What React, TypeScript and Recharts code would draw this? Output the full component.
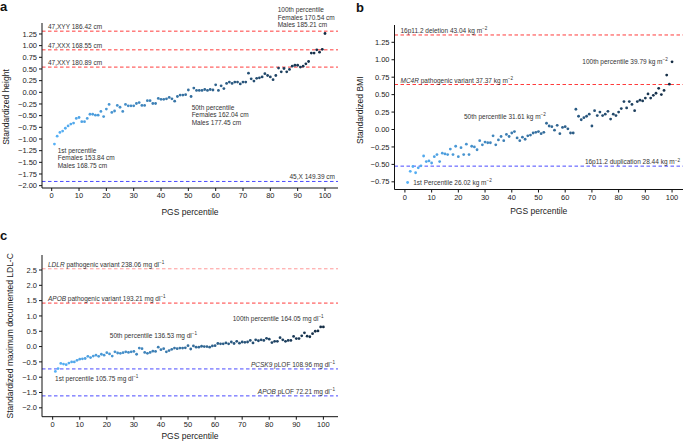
import React from 'react';
import { ScatterChart, Scatter, XAxis, YAxis, ReferenceLine, ReferenceDot } from 'recharts';

const FONT = '"Liberation Sans", Arial, Helvetica, sans-serif';

const percentiles = [
  1, 2, 3, 4, 5, 6, 7, 8, 9, 10, 11, 12, 13, 14, 15, 16, 17, 18, 19, 20,
  21, 22, 23, 24, 25, 26, 27, 28, 29, 30, 31, 32, 33, 34, 35, 36, 37, 38, 39, 40,
  41, 42, 43, 44, 45, 46, 47, 48, 49, 50, 51, 52, 53, 54, 55, 56, 57, 58, 59, 60,
  61, 62, 63, 64, 65, 66, 67, 68, 69, 70, 71, 72, 73, 74, 75, 76, 77, 78, 79, 80,
  81, 82, 83, 84, 85, 86, 87, 88, 89, 90, 91, 92, 93, 94, 95, 96, 97, 98, 99, 100
];

const xTicks = [0, 10, 20, 30, 40, 50, 60, 70, 80, 90, 100];
const heightTicks = [-2, -1.75, -1.5, -1.25, -1, -0.75, -0.5, -0.25, 0, 0.25, 0.5, 0.75, 1, 1.25];
const bmiTicks = [-0.75, -0.5, -0.25, 0, 0.25, 0.5, 0.75, 1, 1.25];
const ldlTicks = [-2, -1.5, -1, -0.5, 0, 0.5, 1, 1.5, 2, 2.5];

// standardized height by PGS percentile
const heightValues = [
  -1.11, -0.94, -0.86, -0.83, -0.77, -0.72, -0.68, -0.66, -0.56, -0.54,
  -0.63, -0.63, -0.56, -0.47, -0.47, -0.49, -0.49, -0.41, -0.52, -0.36,
  -0.26, -0.43, -0.40, -0.28, -0.32, -0.41, -0.26, -0.29, -0.29, -0.29,
  -0.24, -0.22, -0.28, -0.28, -0.18, -0.18, -0.24, -0.24, -0.13, -0.15,
  -0.15, -0.14, -0.11, -0.14, -0.19, -0.09, -0.06, -0.06, -0.05, 0.05,
  -0.09, 0.09, 0.04, 0.04, 0.04, 0.06, 0.04, 0.06, 0.05, 0.16,
  0.04, 0.14, 0.08, 0.19, 0.22, 0.19, 0.22, 0.22, 0.18, 0.22,
  0.22, 0.41, 0.29, 0.24, 0.30, 0.31, 0.33, 0.40, 0.36, 0.33,
  0.27, 0.36, 0.52, 0.44, 0.51, 0.44, 0.49, 0.56, 0.58, 0.58,
  0.54, 0.56, 0.61, 0.66, 0.84, 0.84, 0.91, 0.86, 0.92, 1.26
];

// standardized BMI by PGS percentile
const bmiValues = [
  -0.76, -0.60, -0.53, -0.62, -0.55, -0.52, -0.38, -0.46, -0.45, -0.48,
  -0.39, -0.36, -0.46, -0.34, -0.35, -0.36, -0.28, -0.36, -0.24, -0.39,
  -0.26, -0.36, -0.21, -0.36, -0.24, -0.25, -0.29, -0.16, -0.22, -0.18,
  -0.19, -0.19, -0.09, -0.22, -0.15, -0.10, -0.16, -0.07, -0.10, -0.05,
  -0.03, -0.12, -0.16, -0.11, -0.14, -0.09, -0.08, -0.05, -0.04, -0.03,
  -0.06, -0.04, 0.09, 0.05, 0.04, -0.01, 0.06, -0.06, 0.03, 0.04,
  0.01, -0.05, -0.05, 0.29, 0.19, 0.14, 0.17, 0.19, 0.22, 0.05,
  0.27, 0.20, 0.25, 0.20, 0.22, 0.26, 0.15, 0.22, 0.20, 0.25,
  0.30, 0.40, 0.31, 0.40, 0.36, 0.27, 0.40, 0.42, 0.41, 0.45,
  0.51, 0.45, 0.49, 0.52, 0.59, 0.50, 0.56, 0.78, 0.65, 0.97
];

// standardized maximum documented LDL-C by PGS percentile
const ldlValues = [
  -0.81, -0.72, -0.55, -0.57, -0.59, -0.54, -0.50, -0.50, -0.45, -0.41,
  -0.40, -0.39, -0.32, -0.36, -0.31, -0.28, -0.32, -0.25, -0.28, -0.20,
  -0.24, -0.31, -0.17, -0.21, -0.22, -0.20, -0.17, -0.19, -0.17, -0.16,
  -0.25, -0.05, -0.07, -0.19, -0.22, -0.19, -0.15, -0.16, -0.02, -0.10,
  -0.07, -0.17, -0.13, -0.09, -0.05, -0.07, -0.05, -0.05, -0.04, 0.03,
  -0.08, 0.02, -0.02, -0.02, 0.01, 0.00, 0.00, -0.02, 0.02, 0.03,
  0.10, 0.09, 0.09, 0.12, 0.09, 0.15, 0.10, 0.17, 0.11, 0.15,
  0.14, 0.15, 0.20, 0.12, 0.22, 0.19, 0.22, 0.20, 0.27, 0.24,
  0.13, 0.17, 0.17, 0.29, 0.22, 0.17, 0.20, 0.20, 0.33, 0.26,
  0.26, 0.35, 0.45, 0.34, 0.32, 0.42, 0.50, 0.51, 0.64, 0.64
];

type Part = { t: string; i?: boolean; sup?: boolean };
type RefLine = { y: number; kind: 'high' | 'low'; label: Part[]; faint?: boolean };
type Note = { x: number; y: number; lines: Part[][]; anchor: 'start' | 'end' };

const heightLines: RefLine[] = [
  { y: 1.31, kind: 'high', label: [{ t: '47,XYY 186.42 cm' }] },
  { y: 0.91, kind: 'high', label: [{ t: '47,XXX 168.55 cm' }] },
  { y: 0.54, kind: 'high', label: [{ t: '47,XXY 180.89 cm' }] },
  { y: -1.91, kind: 'low', label: [{ t: '45,X 149.39 cm' }] }
];

const bmiLines: RefLine[] = [
  { y: 1.355, kind: 'high', label: [{ t: '16p11.2 deletion 43.04 kg m' }, { t: '−2', sup: true }] },
  { y: 0.645, kind: 'high', label: [{ t: 'MC4R', i: true }, { t: ' pathogenic variant 37.37 kg m' }, { t: '−2', sup: true }] },
  { y: -0.525, kind: 'low', label: [{ t: '16p11.2 duplication 28.44 kg m' }, { t: '−2', sup: true }] }
];

const ldlLines: RefLine[] = [
  { y: 2.54, kind: 'high', faint: true, label: [{ t: 'LDLR', i: true }, { t: ' pathogenic variant 238.06 mg dl' }, { t: '−1', sup: true }] },
  { y: 1.42, kind: 'high', label: [{ t: 'APOB', i: true }, { t: ' pathogenic variant 193.21 mg dl' }, { t: '−1', sup: true }] },
  { y: -0.73, kind: 'low', label: [{ t: 'PCSK9', i: true }, { t: ' pLOF 108.96 mg dl' }, { t: '−1', sup: true }] },
  { y: -1.61, kind: 'low', label: [{ t: 'APOB', i: true }, { t: ' pLOF 72.21 mg dl' }, { t: '−1', sup: true }] }
];

const heightNotes: Note[] = [
  { x: 2.2, y: -1.3, anchor: 'start', lines: [[{ t: '1st percentile' }], [{ t: 'Females 153.84 cm' }], [{ t: 'Males 168.75 cm' }]] },
  { x: 51.2, y: -0.38, anchor: 'start', lines: [[{ t: '50th percentile' }], [{ t: 'Females 162.04 cm' }], [{ t: 'Males 177.45 cm' }]] },
  { x: 82.7, y: 1.715, anchor: 'start', lines: [[{ t: '100th percentile' }], [{ t: 'Females 170.54 cm' }], [{ t: 'Males 185.21 cm' }]] }
];

const bmiNotes: Note[] = [
  { x: 3.1, y: -0.79, anchor: 'start', lines: [[{ t: '1st Percentile 26.02 kg m' }, { t: '−2', sup: true }]] },
  { x: 22.1, y: 0.155, anchor: 'start', lines: [[{ t: '50th percentile 31.61 kg m' }, { t: '−2', sup: true }]] },
  { x: 98.4, y: 0.944, anchor: 'end', lines: [[{ t: '100th percentile 39.79 kg m' }, { t: '−2', sup: true }]] }
];

const ldlNotes: Note[] = [
  { x: 0.9, y: -1.125, anchor: 'start', lines: [[{ t: '1st percentile 105.75 mg dl' }, { t: '−1', sup: true }]] },
  { x: 21.1, y: 0.28, anchor: 'start', lines: [[{ t: '50th percentile 136.53 mg dl' }, { t: '−1', sup: true }]] },
  { x: 100.1, y: 0.85, anchor: 'end', lines: [[{ t: '100th percentile 164.05 mg dl' }, { t: '−1', sup: true }]] }
];

// ggplot-like gradient, light blue at low percentile to dark navy at the top
const LIGHT = [0x56, 0xb1, 0xf7];
const DARK = [0x13, 0x2b, 0x43];
const dotColor = (p: number) => {
  const t = (p - 1) / 99;
  const c = LIGHT.map((v, k) => Math.round(v + (DARK[k] - v) * t));
  return `rgb(${c[0]},${c[1]},${c[2]})`;
};

const minus = (s: string) => s.replace('-', '−');

const SUP_SHIFT = 2.6;

// tspans for one line of text, superscripts raised and shrunk
const renderParts = (parts: Part[]) => {
  let raised = false;
  return parts.map((p, k) => {
    let dy: number | undefined;
    if (p.sup && !raised) { dy = -SUP_SHIFT; raised = true; }
    else if (!p.sup && raised) { dy = SUP_SHIFT; raised = false; }
    return (
      <tspan key={k} dy={dy} fontSize={p.sup ? 4.6 : undefined} fontStyle={p.i ? 'italic' : 'normal'}>
        {p.t}
      </tspan>
    );
  });
};

const lineLabel = (parts: Part[], side: 'left' | 'right', pad: number) => (props: any) => {
  const vb = props.viewBox || {};
  const x = side === 'left' ? vb.x + pad : vb.x + vb.width - pad;
  return (
    <text x={x} y={vb.y - 2} textAnchor={side === 'left' ? 'start' : 'end'} fontSize={6.5} fill="#333" fontFamily={FONT}>
      {renderParts(parts)}
    </text>
  );
};

const noteLabel = (lines: Part[][], anchor: 'start' | 'end') => (props: any) => {
  const vb = props.viewBox || {};
  const x = vb.x + (vb.width || 0) / 2;
  const y = vb.y + (vb.height || 0) / 2;
  return (
    <g>
      {lines.map((l, k) => (
        <text key={k} x={x} y={y + k * 7.4} textAnchor={anchor} fontSize={6.5} fill="#333" fontFamily={FONT}>
          {renderParts(l)}
        </text>
      ))}
    </g>
  );
};

type PanelProps = {
  width: number;
  height: number;
  margin: { top: number; right: number; bottom: number; left: number };
  yWidth: number;
  xHeight: number;
  xDomain: [number, number];
  yDomain: [number, number];
  yTicks: number[];
  yDigits: number;
  values: number[];
  lines: RefLine[];
  notes: Note[];
  yTitle: string;
  yTitleX: number;
  yTitleShift: number;
  xTitleDy: number;
};

const Panel = (p: PanelProps) => {
  const points = percentiles.map((x, i) => ({ x, y: p.values[i] }));
  const tickStyle = { fontSize: 7.5, fill: '#222', fontFamily: FONT };
  return (
    <ScatterChart width={p.width} height={p.height} margin={p.margin}>
      <XAxis
        type="number"
        dataKey="x"
        domain={p.xDomain}
        allowDataOverflow
        ticks={xTicks}
        interval={0}
        height={p.xHeight}
        tickSize={3}
        tickMargin={2}
        tick={tickStyle}
        stroke="#111"
        label={(lp: any) => {
          const vb = lp.viewBox;
          return (
            <text x={vb.x + vb.width / 2} y={vb.y + p.xTitleDy} textAnchor="middle" dominantBaseline="central" fontSize={8.5} fill="#222" fontFamily={FONT}>
              PGS percentile
            </text>
          );
        }}
      />
      <YAxis
        type="number"
        dataKey="y"
        domain={p.yDomain}
        allowDataOverflow
        ticks={p.yTicks}
        interval={0}
        width={p.yWidth}
        tickSize={3}
        tickMargin={2}
        tick={tickStyle}
        stroke="#111"
        tickFormatter={(v: number) => minus(v.toFixed(p.yDigits))}
        label={(lp: any) => {
          const vb = lp.viewBox;
          const cx = p.yTitleX;
          const cy = vb.y + vb.height / 2 + p.yTitleShift;
          return (
            <text x={cx} y={cy} transform={`rotate(-90, ${cx}, ${cy})`} textAnchor="middle" dominantBaseline="central" fontSize={8.5} fill="#222" fontFamily={FONT}>
              {p.yTitle}
            </text>
          );
        }}
      />
      <Scatter
        data={points}
        isAnimationActive={false}
        shape={(sp: any) => <circle cx={sp.cx} cy={sp.cy} r={1.4} fill={dotColor(sp.payload.x)} />}
      />
      {p.lines.map((l, k) => (
        <ReferenceLine
          key={k}
          y={l.y}
          stroke={l.kind === 'high' ? '#ff1a1a' : '#2a2aff'}
          strokeOpacity={l.faint ? 0.45 : 0.85}
          strokeWidth={1}
          strokeDasharray="3.5 2.5"
          ifOverflow="visible"
          label={lineLabel(l.label, l.kind === 'high' ? 'left' : 'right', l.kind === 'high' ? 6 : 3)}
        />
      ))}
      {p.notes.map((n, k) => (
        <ReferenceDot
          key={k}
          x={n.x}
          y={n.y}
          r={0}
          fill="none"
          stroke="none"
          ifOverflow="visible"
          label={noteLabel(n.lines, n.anchor)}
        />
      ))}
    </ScatterChart>
  );
};

const letterStyle: React.CSSProperties = {
  position: 'absolute',
  fontFamily: FONT,
  fontWeight: 700,
  fontSize: 13,
  lineHeight: '13px',
  color: '#111'
};

export default function App() {
  return (
    <div style={{ position: 'absolute', left: 0, top: 0, width: 685, height: 442, background: '#fff', overflow: 'hidden' }}>
      <div style={{ position: 'absolute', left: 0, top: 0 }}>
        <Panel
          width={345}
          height={222}
          margin={{ top: 23, right: 7, bottom: 0, left: 0 }}
          yWidth={42}
          xHeight={34}
          xDomain={[-3.55, 104.76]}
          yDomain={[-2.05, 1.485]}
          yTicks={heightTicks}
          yDigits={2}
          values={heightValues}
          lines={heightLines}
          notes={heightNotes}
          yTitle="Standardized height"
          yTitleX={6}
          yTitleShift={1.5}
          xTitleDy={23.5}
        />
      </div>
      <div style={{ position: 'absolute', left: 345, top: 0 }}>
        <Panel
          width={340}
          height={222}
          margin={{ top: 25, right: 2, bottom: 0, left: 0 }}
          yWidth={49.5}
          xHeight={32.5}
          xDomain={[-3.9, 104.1]}
          yDomain={[-0.86, 1.498]}
          yTicks={bmiTicks}
          yDigits={2}
          values={bmiValues}
          lines={bmiLines}
          notes={bmiNotes}
          yTitle="Standardized BMI"
          yTitleX={15}
          yTitleShift={3}
          xTitleDy={21.5}
        />
      </div>
      <div style={{ position: 'absolute', left: 0, top: 225 }}>
        <Panel
          width={345}
          height={217}
          margin={{ top: 30, right: 7, bottom: 0, left: 0 }}
          yWidth={42}
          xHeight={25.3}
          xDomain={[-3.94, 105.4]}
          yDomain={[-2.29, 2.99]}
          yTicks={ldlTicks}
          yDigits={1}
          values={ldlValues}
          lines={ldlLines}
          notes={ldlNotes}
          yTitle="Standardized maximum documented LDL-C"
          yTitleX={10}
          yTitleShift={0}
          xTitleDy={19}
        />
      </div>
      <div style={{ ...letterStyle, left: 0, top: 0 }}>a</div>
      <div style={{ ...letterStyle, left: 356, top: 1 }}>b</div>
      <div style={{ ...letterStyle, left: 0, top: 229 }}>c</div>
    </div>
  );
}
